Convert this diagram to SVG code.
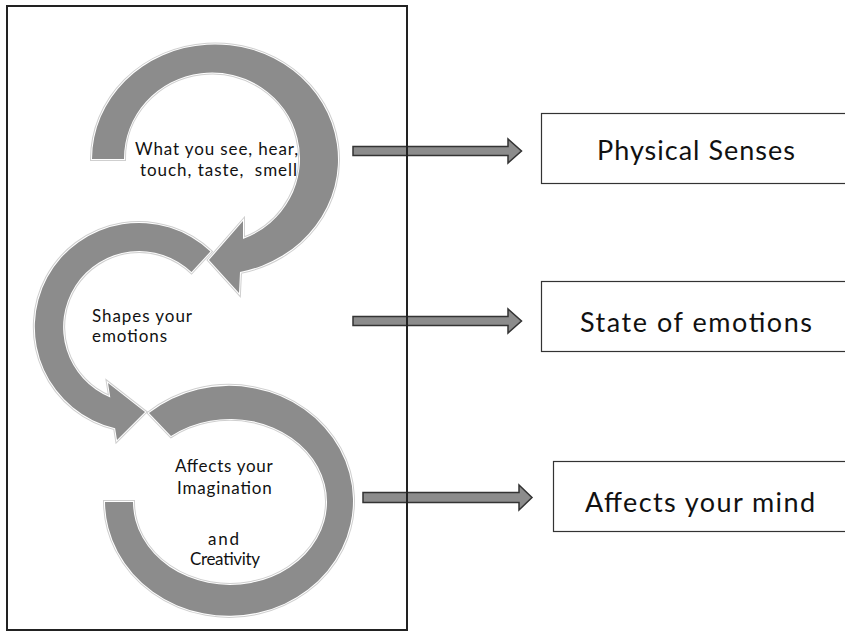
<svg xmlns="http://www.w3.org/2000/svg" width="845" height="632" viewBox="0 0 845 632">
<style>
.ring-halo{fill:none;stroke:#cfcfcf;stroke-width:4;stroke-linejoin:miter}
.ring{fill:#8c8c8c;stroke:#ffffff;stroke-width:2;paint-order:stroke;stroke-linejoin:miter}
.flow{fill:#8c8c8c;stroke:#333333;stroke-width:1.5;stroke-linejoin:miter}
.box{fill:#ffffff;stroke:#333333;stroke-width:1.2}
.frame{fill:none;stroke:#222222;stroke-width:2}
.t{font-family:Lato,"Open Sans","Liberation Sans",sans-serif;fill:#111111;white-space:pre}
.small{font-size:17px}
.big{font-size:27px}
</style>
<rect width="845" height="632" fill="#ffffff"/>
<g id="ring-senses">
<path class="ring-halo" d="M92,159 A123,115 0 1 1 240,272 L239,293 L209,260 L243,221 L243,239 A88,86 0 1 0 124,159 Z"/>
<path class="ring" d="M92,159 A123,115 0 1 1 240,272 L239,293 L209,260 L243,221 L243,239 A88,86 0 1 0 124,159 Z"/>
<text class="t small" x="135" y="155" textLength="163">What you see, hear,</text>
<text class="t small" x="140" y="175.5" textLength="157">touch, taste,  smell</text>
</g>
<g id="ring-emotions">
<path class="ring-halo" d="M210.4,251.5 A104,104 0 1 0 115.1,428.2 L117,440 L145,412 L108,383 L110.3,397.4 A76,76 0 1 1 191.5,272 Z"/>
<path class="ring" d="M210.4,251.5 A104,104 0 1 0 115.1,428.2 L117,440 L145,412 L108,383 L110.3,397.4 A76,76 0 1 1 191.5,272 Z"/>
<text class="t small" x="92" y="321.5" textLength="100">Shapes your</text>
<text class="t small" x="92" y="342" textLength="75">emotions</text>
</g>
<g id="ring-imagination">
<path class="ring-halo" d="M149,413 A124,115 0 1 1 105,502 L133,502 A97,83 0 1 0 171,436 Z"/>
<path class="ring" d="M149,413 A124,115 0 1 1 105,502 L133,502 A97,83 0 1 0 171,436 Z"/>
<text class="t small" x="175" y="471.5" textLength="97.7">Affects your</text>
<text class="t small" x="177" y="493.5" textLength="94.7">Imagination</text>
<text class="t small" x="208" y="544.5" textLength="31">and</text>
<text class="t small" x="190" y="565" textLength="70">Creativity</text>
</g>
<g id="connectors">
<path class="flow" d="M353,146.5 L508,146.5 L508,139 L521.5,151 L508,163 L508,155.5 L353,155.5 Z"/>
<path class="flow" d="M353,316.5 L508,316.5 L508,309 L521.5,321 L508,333 L508,325.5 L353,325.5 Z"/>
<path class="flow" d="M363,492.5 L519,492.5 L519,485 L532,497.5 L519,510 L519,502.5 L363,502.5 Z"/>
</g>
<rect id="frame" class="frame" x="7" y="6" width="400" height="624"/>
<g id="box-physical">
<rect class="box" x="541.5" y="113.5" width="320" height="70"/>
<text class="t big" x="597" y="160" textLength="198">Physical Senses</text>
</g>
<g id="box-state">
<rect class="box" x="541.5" y="281.5" width="320" height="70"/>
<text class="t big" x="580" y="331.5" textLength="232">State of emotions</text>
</g>
<g id="box-mind">
<rect class="box" x="553.5" y="461.5" width="320" height="70"/>
<text class="t big" x="585" y="511.5" textLength="230">Affects your mind</text>
</g>
</svg>
